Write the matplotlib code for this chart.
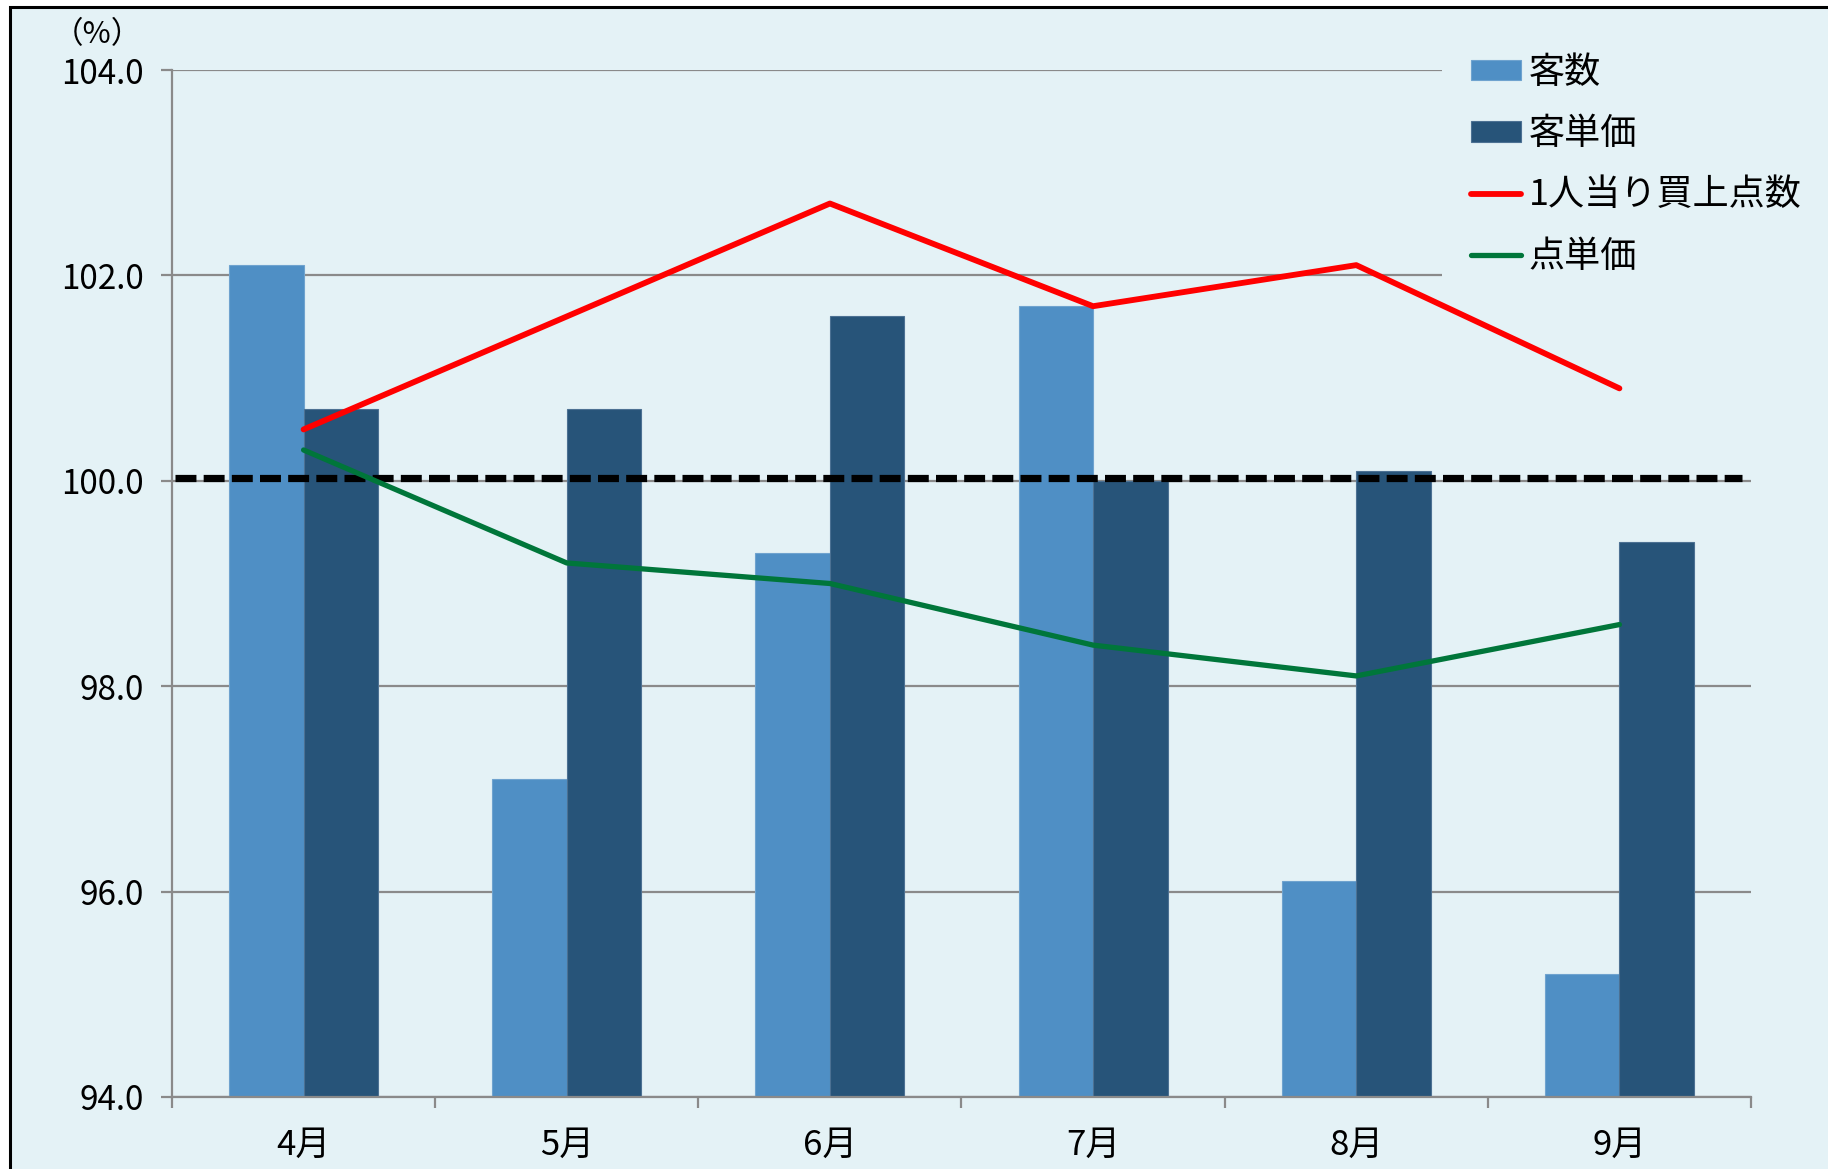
import matplotlib.pyplot as plt
from matplotlib.patches import Rectangle
import numpy as np

plt.rcParams['font.family'] = ['Noto Sans CJK JP', 'DejaVu Sans']

months = ['4月', '5月', '6月', '7月', '8月', '9月']
kyakusu = [102.1, 97.1, 99.3, 101.7, 96.1, 95.2]        # 客数
kyaku_tanka = [100.7, 100.7, 101.6, 100.0, 100.1, 99.4]   # 客単価
kaiage_tensu = [100.5, 101.6, 102.7, 101.7, 102.1, 100.9]  # 1人当り買上点数
ten_tanka = [100.3, 99.2, 99.0, 98.4, 98.1, 98.6]         # 点単価
base_line = 100.03
yticks = [94.0, 96.0, 98.0, 100.0, 102.0, 104.0]

bg = '#E4F2F6'
c_light = '#4F8FC5'
c_dark = '#275479'
c_red = '#FF0000'
c_green = '#00763A'
c_grid = '#8A8A8A'

fig = plt.figure(figsize=(18.28, 11.69), dpi=100, facecolor='white')
panel = Rectangle((10 / 1828, -0.05), 1.2, 0.05 + (1169 - 7) / 1169,
                  transform=fig.transFigure, facecolor=bg,
                  edgecolor='black', linewidth=2.2, zorder=-10)
fig.patches.append(panel)

ax = fig.add_axes([172 / 1828, 72 / 1169, 1579 / 1828, 1027 / 1169])
ax.set_facecolor('none')
ax.set_zorder(1)

x = np.arange(len(months))
w = 0.283
b1 = ax.bar(x - w / 2, kyakusu, w, color=c_light, edgecolor='#6FA3CF',
            linewidth=0.8, label='客数', zorder=1)
b2 = ax.bar(x + w / 2, kyaku_tanka, w, color=c_dark, edgecolor='#4C7193',
            linewidth=0.8, label='客単価', zorder=1)
l1, = ax.plot(x, kaiage_tensu, color=c_red, lw=4.2, solid_capstyle='round',
              label='1人当り買上点数', zorder=4)
l2, = ax.plot(x, ten_tanka, color=c_green, lw=3.8, solid_capstyle='round',
              label='点単価', zorder=4)
ax.axhline(base_line, xmin=0.002, xmax=0.994, color='black', lw=5.2,
           dashes=(2.9, 1.0), dash_capstyle='butt', zorder=3)

ax.set_ylim(94, 104)
ax.set_xlim(-0.5, len(months) - 0.5)
ax.set_yticks(yticks, [f'{v:.1f}' for v in yticks])
ax.set_xticks(np.arange(len(months) + 1) - 0.5, [''] * (len(months) + 1))
ax.set_xticks(x, months, minor=True)

ax.set_axisbelow(True)
ax.grid(axis='y', color=c_grid, lw=1.6)
for s in ['top', 'right']:
    ax.spines[s].set_visible(False)
for s in ['left', 'bottom']:
    ax.spines[s].set_color(c_grid)
    ax.spines[s].set_linewidth(1.6)

ax.tick_params(axis='y', which='major', length=8, width=1.6, color=c_grid,
               labelsize=24, pad=12)
ax.tick_params(axis='x', which='major', length=8, width=1.6, color=c_grid)
ax.tick_params(axis='x', which='minor', length=0, labelsize=25, pad=22)

fig.text(97 / 1828, 1 - 35 / 1169, '（%）', fontsize=22, ha='center', va='center')

leg = ax.legend([b1, b2, l1, l2], ['客数', '客単価', '1人当り買上点数', '点単価'],
                loc='upper left', bbox_to_anchor=(1442 / 1828, 1 - 26 / 1169),
                bbox_transform=fig.transFigure, frameon=True, fancybox=False,
                facecolor=bg, edgecolor='none', framealpha=1, fontsize=26,
                handlelength=1.4, handleheight=0.5, handletextpad=0.2,
                labelspacing=0.7, borderpad=0.8, borderaxespad=0)
leg.set_zorder(2)

fig.savefig('out.png', dpi=100, facecolor='white')
